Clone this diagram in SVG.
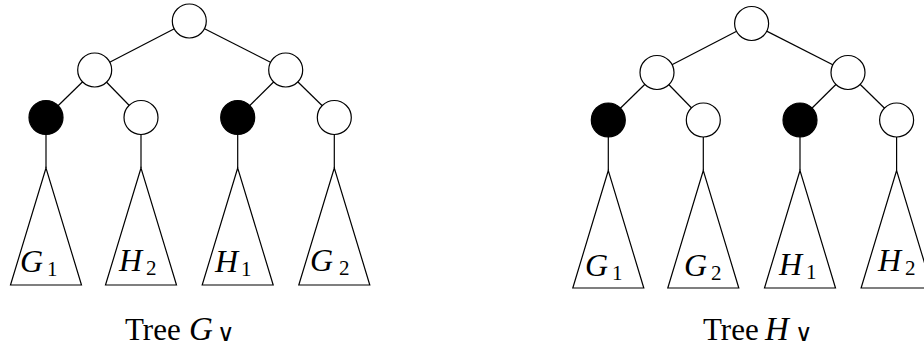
<svg xmlns="http://www.w3.org/2000/svg" width="924" height="347" viewBox="0 0 924 347">
<style>
.e{stroke:#000;stroke-width:1.2;fill:none}
.w{fill:#fff;stroke:#000;stroke-width:1.2}
.b{fill:#000;stroke:#000;stroke-width:1.2}
.t{fill:#fff;stroke:#000;stroke-width:1.2;stroke-linejoin:miter}
.m{font-family:"Liberation Serif",serif;font-style:italic;font-size:32px;fill:#000}
.s{font-family:"Liberation Serif",serif;font-size:21px;fill:#000}
.c{font-family:"Liberation Serif",serif;font-size:31px;fill:#000}
.ci{font-family:"Liberation Serif",serif;font-style:italic;font-size:33px;fill:#000}
.v{font-family:"DejaVu Sans",sans-serif;font-size:24px;font-weight:200;fill:#000}
</style>
<rect width="924" height="347" fill="#fff"/>
<g id="connectors">
  <line class="e" x1="189.3" y1="21" x2="94.7" y2="70"/>
  <line class="e" x1="189.3" y1="21" x2="285.7" y2="70"/>
  <line class="e" x1="94.7" y1="70" x2="46" y2="117.5"/>
  <line class="e" x1="94.7" y1="70" x2="141" y2="117.5"/>
  <line class="e" x1="285.7" y1="70" x2="237.7" y2="117.5"/>
  <line class="e" x1="285.7" y1="70" x2="334.3" y2="117.5"/>
  <line class="e" x1="46" y1="134.5" x2="46" y2="168"/>
  <line class="e" x1="141" y1="134.5" x2="141" y2="168"/>
  <line class="e" x1="237.7" y1="134.5" x2="237.7" y2="168"/>
  <line class="e" x1="334.3" y1="134.5" x2="334.3" y2="168"/>
  <line class="e" x1="751.6" y1="23.5" x2="657" y2="72.5"/>
  <line class="e" x1="751.6" y1="23.5" x2="848" y2="72.5"/>
  <line class="e" x1="657" y1="72.5" x2="608.3" y2="120"/>
  <line class="e" x1="657" y1="72.5" x2="703.3" y2="120"/>
  <line class="e" x1="848" y1="72.5" x2="800" y2="120"/>
  <line class="e" x1="848" y1="72.5" x2="896.6" y2="120"/>
  <line class="e" x1="608.3" y1="137" x2="608.3" y2="170.5"/>
  <line class="e" x1="703.3" y1="137" x2="703.3" y2="170.5"/>
  <line class="e" x1="800" y1="137" x2="800" y2="170.5"/>
  <line class="e" x1="896.6" y1="137" x2="896.6" y2="170.5"/>
</g>
<g id="g-root"><circle class="w" cx="189.3" cy="21" r="17"/></g>
<g id="g-l"><circle class="w" cx="94.7" cy="70" r="17"/></g>
<g id="g-r"><circle class="w" cx="285.7" cy="70" r="17"/></g>
<g id="g-ll"><circle class="b" cx="46" cy="117.5" r="17"/></g>
<g id="g-lr"><circle class="w" cx="141" cy="117.5" r="17"/></g>
<g id="g-rl"><circle class="b" cx="237.7" cy="117.5" r="17"/></g>
<g id="g-rr"><circle class="w" cx="334.3" cy="117.5" r="17"/></g>
<g id="g-t1"><polygon class="t" points="46,168 10.5,285 81.5,285"/><text class="m" x="20" y="272">G</text><text class="s" x="47" y="276">1</text></g>
<g id="g-t2"><polygon class="t" points="141,168 105.5,285 176.5,285"/><text class="m" x="119" y="271">H</text><text class="s" x="146" y="275">2</text></g>
<g id="g-t3"><polygon class="t" points="237.7,168 202.2,285 273.2,285"/><text class="m" x="215" y="272">H</text><text class="s" x="241" y="276">1</text></g>
<g id="g-t4"><polygon class="t" points="334.3,168 298.8,285 369.8,285"/><text class="m" x="310" y="271">G</text><text class="s" x="339" y="275">2</text></g>
<g id="g-label"><text class="c" x="125" y="340">Tree</text><text class="ci" x="189" y="340">G</text><text class="v" x="217" y="341">∨</text></g>

<g id="h-root"><circle class="w" cx="751.6" cy="23.5" r="17"/></g>
<g id="h-l"><circle class="w" cx="657" cy="72.5" r="17"/></g>
<g id="h-r"><circle class="w" cx="848" cy="72.5" r="17"/></g>
<g id="h-ll"><circle class="b" cx="608.3" cy="120" r="17"/></g>
<g id="h-lr"><circle class="w" cx="703.3" cy="120" r="17"/></g>
<g id="h-rl"><circle class="b" cx="800" cy="120" r="17"/></g>
<g id="h-rr"><circle class="w" cx="896.6" cy="120" r="17"/></g>
<g id="h-t1"><polygon class="t" points="608.3,170.5 572.8,288 643.8,288"/><text class="m" x="585" y="276">G</text><text class="s" x="612" y="280">1</text></g>
<g id="h-t2"><polygon class="t" points="703.3,170.5 667.8,288 738.8,288"/><text class="m" x="684" y="276">G</text><text class="s" x="711" y="280">2</text></g>
<g id="h-t3"><polygon class="t" points="800,170.5 764.5,288 835.5,288"/><text class="m" x="779" y="275">H</text><text class="s" x="806" y="279">1</text></g>
<g id="h-t4"><polygon class="t" points="896.6,170.5 861.1,288 932.1,288"/><text class="m" x="878" y="271">H</text><text class="s" x="905" y="275">2</text></g>
<g id="h-label"><text class="c" x="703" y="340">Tree</text><text class="ci" x="765" y="340">H</text><text class="v" x="795" y="341">∨</text></g>
</svg>
